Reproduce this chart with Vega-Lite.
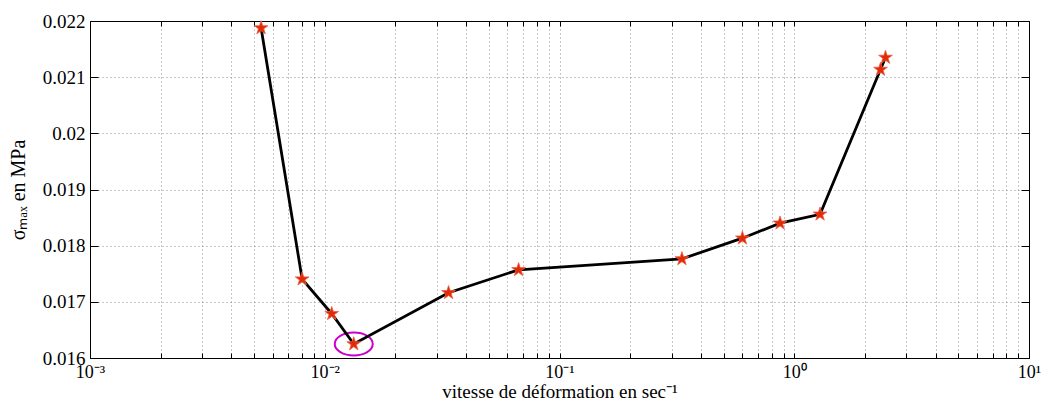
{
  "$schema": "https://vega.github.io/schema/vega-lite/v6.json",
  "width": 939,
  "height": 337,
  "autosize": {"type": "pad"},
  "padding": {"left": 8, "top": 12, "right": 0, "bottom": 0},
  "background": "white",
  "config": {
    "view": {"stroke": "black", "strokeWidth": 1},
    "font": "Liberation Serif"
  },
  "datasets": {
    "pts": [
      {"rate": 0.005356, "sigma": 0.021876},
      {"rate": 0.008011, "sigma": 0.017404},
      {"rate": 0.01071, "sigma": 0.016788},
      {"rate": 0.01329, "sigma": 0.016249},
      {"rate": 0.03368, "sigma": 0.017161},
      {"rate": 0.06695, "sigma": 0.01757},
      {"rate": 0.3323, "sigma": 0.017765},
      {"rate": 0.6014, "sigma": 0.018133},
      {"rate": 0.87, "sigma": 0.0184},
      {"rate": 1.288, "sigma": 0.018559},
      {"rate": 2.33, "sigma": 0.021136},
      {"rate": 2.447, "sigma": 0.02135}
    ],
    "hl": [{"rate": 0.01329, "sigma": 0.016249}]
  },
  "layer": [
    {
      "data": {"name": "hl"},
      "mark": {"type": "point", "shape": "M-1,0A1,0.6 0 1,0 1,0A1,0.6 0 1,0 -1,0Z", "size": 1444, "filled": false, "stroke": "#CC00CC", "strokeWidth": 2, "opacity": 1},
      "encoding": {
        "x": {"field": "rate", "type": "quantitative", "scale": {"type": "log", "domain": [0.001, 10]},
          "axis": {
            "orient": "bottom",
            "values": [0.001,0.002,0.003,0.004,0.005,0.006,0.007,0.008,0.009,0.01,0.02,0.03,0.04,0.05,0.06,0.07,0.08,0.09,0.1,0.2,0.3,0.4,0.5,0.6,0.7,0.8,0.9,1,2,3,4,5,6,7,8,9,10],
            "labelExpr": "datum.value==0.001?'10⁻³':datum.value==0.01?'10⁻²':datum.value==0.1?'10⁻¹':datum.value==1?'10⁰':datum.value==10?'10¹':''",
            "labelOverlap": false,
            "labelFlush": false,
            "labelFont": "Liberation Serif",
            "labelFontSize": 18,
            "labelColor": "black",
            "labelPadding": 10,
            "grid": true,
            "gridDash": [1, 3],
            "gridColor": "#8c8c8c",
            "gridWidth": 1,
            "tickSize": -5,
            "tickColor": "black",
            "domainColor": "black",
            "title": "vitesse de déformation en sec⁻¹",
            "titleFont": "Liberation Serif",
            "titleFontWeight": "normal",
            "titleFontSize": 19,
            "titleColor": "black",
            "titleBaseline": "alphabetic",
            "titleY": 39
          }
        },
        "y": {"field": "sigma", "type": "quantitative", "scale": {"domain": [0.016, 0.022], "zero": false},
          "axis": {
            "orient": "left",
            "values": [0.016,0.017,0.018,0.019,0.02,0.021,0.022],
            "format": ".3~f",
            "labelFont": "Liberation Serif",
            "labelFontSize": 19,
            "labelColor": "black",
            "labelPadding": 13,
            "grid": true,
            "gridDash": [1, 3],
            "gridColor": "#8c8c8c",
            "gridWidth": 1,
            "tickSize": -8,
            "tickColor": "black",
            "domainColor": "black",
            "title": "σₘₐₓ en MPa",
            "titleFont": "Liberation Serif",
            "titleFontWeight": "normal",
            "titleFontSize": 20,
            "titleColor": "black",
            "titleAngle": -90,
            "titleBaseline": "alphabetic",
            "titleAlign": "center",
            "titleX": -66
          }
        }
      }
    },
    {
      "data": {"name": "pts"},
      "mark": {"type": "line", "color": "black", "strokeWidth": 2.8},
      "encoding": {
        "x": {"field": "rate", "type": "quantitative", "scale": {"type": "log", "domain": [0.001, 10]},
          "axis": {
            "orient": "top",
            "values": [0.001,0.002,0.003,0.004,0.005,0.006,0.007,0.008,0.009,0.01,0.02,0.03,0.04,0.05,0.06,0.07,0.08,0.09,0.1,0.2,0.3,0.4,0.5,0.6,0.7,0.8,0.9,1,2,3,4,5,6,7,8,9,10],
            "labels": false,
            "grid": false,
            "tickSize": -5,
            "tickColor": "black",
            "domainColor": "black",
            "title": null
          }
        },
        "y": {"field": "sigma", "type": "quantitative", "scale": {"domain": [0.016, 0.022], "zero": false},
          "axis": {
            "orient": "right",
            "values": [0.016,0.017,0.018,0.019,0.02,0.021,0.022],
            "labels": false,
            "grid": false,
            "tickSize": -8,
            "tickColor": "black",
            "domainColor": "black",
            "title": null
          }
        }
      }
    },
    {
      "data": {"name": "pts"},
      "mark": {"type": "point", "shape": "M0,-1L0.2245,-0.309L0.9511,-0.309L0.3633,0.118L0.5878,0.809L0,0.382L-0.5878,0.809L-0.3633,0.118L-0.9511,-0.309L-0.2245,-0.309Z", "size": 210, "filled": true, "fill": "#E02A08", "stroke": "#F06040", "strokeWidth": 0.8, "opacity": 1},
      "encoding": {
        "x": {"field": "rate", "type": "quantitative", "scale": {"type": "log", "domain": [0.001, 10]}, "axis": null},
        "y": {"field": "sigma", "type": "quantitative", "scale": {"domain": [0.016, 0.022], "zero": false}, "axis": null}
      }
    }
  ],
  "resolve": {"axis": {"x": "independent", "y": "independent"}}
}
